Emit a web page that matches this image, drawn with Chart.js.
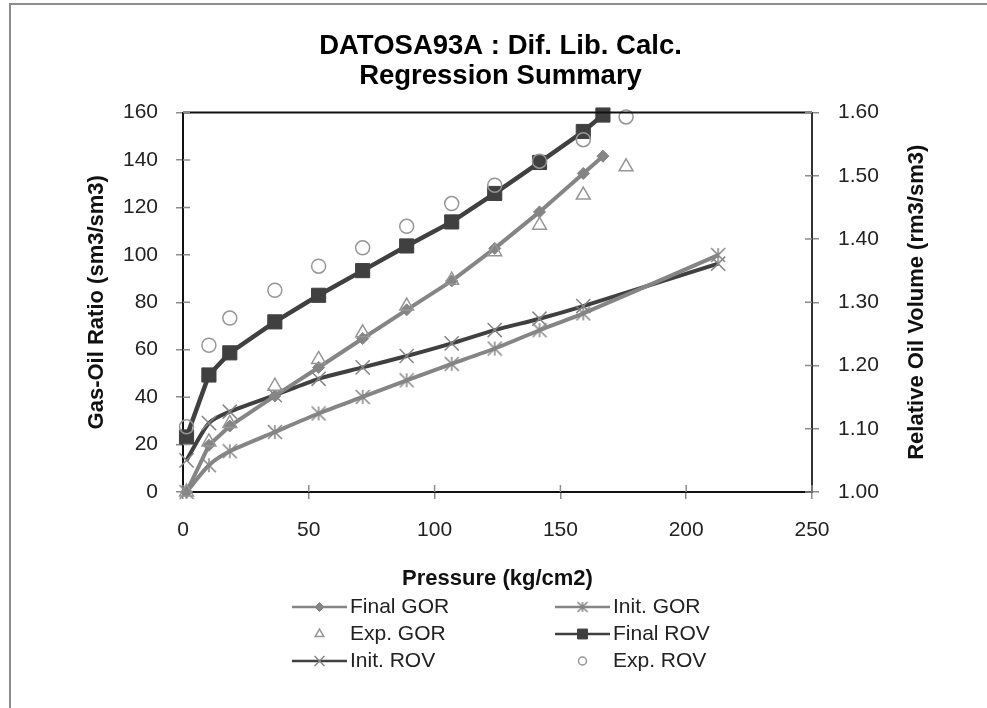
<!DOCTYPE html>
<html>
<head>
<meta charset="utf-8">
<script src="https://cdn.jsdelivr.net/npm/chart.js@4.4.0/dist/chart.umd.min.js"></script>
<style>
    html, body { margin: 0; padding: 0; background: #fff; }
    #chart { display: block; }
</style>
</head>
<body>
<canvas id="chart" width="987" height="708"></canvas>
<script>

// pressure (kg/cm2) for each group of series
const finalPressure = [1.4, 10.3, 18.6, 36.5, 53.9, 71.4, 88.9, 106.8, 123.9, 141.7, 159.1, 166.9];
const initPressure = [1.4, 10.3, 18.6, 36.5, 53.9, 71.4, 88.9, 106.8, 123.9, 141.7, 159.1, 212.7];
const expPressure = [1.4, 10.3, 18.6, 36.5, 53.9, 71.4, 88.9, 106.8, 123.9, 141.7, 159.1, 176.1];

// gas-oil ratio (sm3/sm3)
const finalGor = [0, 19.7, 27.8, 40.5, 52.5, 64.7, 76.8, 89.0, 102.7, 118.1, 134.3, 141.6];
const initGor = [0, 11.3, 17.2, 25.3, 33.1, 40.1, 47.1, 54.0, 60.5, 68.2, 75.3, 99.9];
const expGor = [0, 21.1, 28.9, 44.6, 55.9, 67.1, 78.4, 89.3, 101.3, 112.5, 125.2, 137.1];

// relative oil volume (rm3/sm3)
const finalRov = [1.087, 1.185, 1.220, 1.269, 1.311, 1.350, 1.389, 1.427, 1.472, 1.521, 1.570, 1.596];
const initRov = [1.050, 1.109, 1.127, 1.153, 1.179, 1.197, 1.215, 1.235, 1.256, 1.274, 1.294, 1.361];
const expRov = [1.103, 1.232, 1.275, 1.319, 1.357, 1.386, 1.420, 1.456, 1.485, 1.523, 1.557, 1.593];

const seriesNames = ['Final GOR', 'Init. GOR', 'Exp. GOR', 'Final ROV', 'Init. ROV', 'Exp. ROV'];

const pressureTicks = [0, 50, 100, 150, 200, 250];
const gorTicks = [0, 20, 40, 60, 80, 100, 120, 140, 160];
const rovTicks = [1.0, 1.1, 1.2, 1.3, 1.4, 1.5, 1.6];

const DARK = 'rgb(64, 64, 64)';
const GREY = 'rgb(133, 133, 133)';
const LIGHT = 'rgb(150, 150, 150)';
const FONT = "'Liberation Sans', Arial, sans-serif";

function toPoints(xs, ys) {
    return xs.map(function (x, i) {
        return { x: x, y: ys[i] };
    });
}

// excel style asterisk: an X with a vertical stroke
function asterisk(size, color) {
    const c = document.createElement('canvas');
    c.width = size;
    c.height = size;
    const g = c.getContext('2d');
    const m = size / 2;
    const r = size / 2 - 1;
    g.strokeStyle = color;
    g.lineWidth = 1.5;
    g.beginPath();
    g.moveTo(m - r, m - r); g.lineTo(m + r, m + r);
    g.moveTo(m + r, m - r); g.lineTo(m - r, m + r);
    g.moveTo(m, m - r); g.lineTo(m, m + r);
    g.stroke();
    return c;
}

Chart.defaults.font.family = FONT;
Chart.defaults.color = '#222';

const data = {
    datasets: [
        {
            label: seriesNames[0],
            data: toPoints(finalPressure, finalGor),
            yAxisID: 'y',
            borderColor: GREY, backgroundColor: GREY,
            borderWidth: 4, pointStyle: 'rectRot', pointRadius: 6,
            pointBorderWidth: 1, legendRadius: 4.5, order: 2
        },
        {
            label: seriesNames[1],
            data: toPoints(initPressure, initGor),
            yAxisID: 'y',
            borderColor: GREY, backgroundColor: GREY,
            borderWidth: 4, tension: 0.25,
            pointStyle: asterisk(16, GREY), legendStyle: asterisk(12, GREY), order: 3
        },
        {
            label: seriesNames[2],
            data: toPoints(expPressure, expGor),
            yAxisID: 'y',
            showLine: false,
            borderColor: LIGHT, backgroundColor: 'rgba(0,0,0,0)',
            pointStyle: 'triangle', pointRadius: 8, pointBorderWidth: 1.5,
            legendRadius: 5, order: 0
        },
        {
            label: seriesNames[3],
            data: toPoints(finalPressure, finalRov),
            yAxisID: 'y2',
            borderColor: DARK, backgroundColor: DARK,
            borderWidth: 4.5, pointStyle: 'rect', pointRadius: 10,
            pointBorderWidth: 1, legendRadius: 7, order: 1
        },
        {
            label: seriesNames[4],
            data: toPoints(initPressure, initRov),
            yAxisID: 'y2',
            borderColor: DARK, backgroundColor: GREY,
            pointBorderColor: GREY,
            borderWidth: 4, tension: 0.25,
            pointStyle: 'crossRot', pointRadius: 10, pointBorderWidth: 1.5,
            legendRadius: 7, order: 3
        },
        {
            label: seriesNames[5],
            data: toPoints(expPressure, expRov),
            yAxisID: 'y2',
            showLine: false,
            borderColor: LIGHT, backgroundColor: 'rgba(0,0,0,0)',
            pointStyle: 'circle', pointRadius: 7, pointBorderWidth: 1.5,
            legendRadius: 4, order: 0
        }
    ]
};

const framePlugin = {
    id: 'frame',
    beforeDraw: (chart) => {
        const ctx = chart.ctx;
        ctx.save();
        ctx.fillStyle = '#fff';
        ctx.fillRect(0, 0, chart.width, chart.height);
        ctx.strokeStyle = 'rgb(140, 140, 140)';
        ctx.lineWidth = 2;
        ctx.strokeRect(10, 4, chart.width + 20, chart.height + 20);
        ctx.restore();
    },
    afterDraw: (chart) => {
        const ctx = chart.ctx;
        const area = chart.chartArea;
        ctx.save();

        // top border of the plot area
        ctx.strokeStyle = '#111';
        ctx.lineWidth = 2;
        ctx.beginPath();
        ctx.moveTo(area.left, area.top);
        ctx.lineTo(area.right, area.top);
        ctx.stroke();

        // inner half of the crossing tick marks
        ctx.strokeStyle = 'rgb(140, 140, 140)';
        ctx.lineWidth = 1.5;
        ctx.beginPath();
        chart.scales.x.ticks.forEach(function (t) {
            const px = chart.scales.x.getPixelForValue(t.value);
            ctx.moveTo(px, area.bottom);
            ctx.lineTo(px, area.bottom - 7);
        });
        chart.scales.y.ticks.forEach(function (t) {
            const py = chart.scales.y.getPixelForValue(t.value);
            ctx.moveTo(area.left, py);
            ctx.lineTo(area.left + 7, py);
        });
        chart.scales.y2.ticks.forEach(function (t) {
            const py = chart.scales.y2.getPixelForValue(t.value);
            ctx.moveTo(area.right, py);
            ctx.lineTo(area.right - 7, py);
        });
        ctx.stroke();

        // right axis title, reading bottom to top
        ctx.fillStyle = '#111';
        ctx.font = 'bold 22px ' + FONT;
        ctx.textAlign = 'center';
        ctx.textBaseline = 'middle';
        ctx.translate(917, (area.top + area.bottom) / 2);
        ctx.rotate(-Math.PI / 2);
        ctx.fillText('Relative Oil Volume (rm3/sm3)', 0, 0);
        ctx.restore();

        // legend, two columns
        const colX = [292, 555];
        const rowY = [607, 634, 661];
        ctx.save();
        ctx.font = '21px ' + FONT;
        ctx.textBaseline = 'middle';
        ctx.textAlign = 'left';
        chart.data.datasets.forEach(function (ds, i) {
            const x = colX[i % 2];
            const y = rowY[Math.floor(i / 2)];
            if (ds.showLine !== false) {
                ctx.strokeStyle = ds.borderColor;
                ctx.lineWidth = 2.5;
                ctx.beginPath();
                ctx.moveTo(x, y);
                ctx.lineTo(x + 55, y);
                ctx.stroke();
            }
            ctx.strokeStyle = ds.pointBorderColor || ds.borderColor;
            ctx.fillStyle = ds.backgroundColor;
            ctx.lineWidth = ds.pointBorderWidth || 1;
            Chart.helpers.drawPoint(ctx, {
                pointStyle: ds.legendStyle || ds.pointStyle,
                radius: ds.legendRadius || 5,
                rotation: 0,
                borderWidth: ds.pointBorderWidth || 1
            }, x + 27.5, y);
            ctx.fillStyle = '#222';
            ctx.fillText(ds.label, x + 58, y);
        });
        ctx.restore();
    }
};

const config = {
    type: 'line',
    data: data,
    options: {
        responsive: false,
        animation: false,
        events: [],
        layout: {
            padding: { left: 14, right: 0, top: 0, bottom: 108 }
        },
        plugins: {
            legend: { display: false },
            tooltip: { enabled: false },
            title: {
                display: true,
                text: ['DATOSA93A : Dif. Lib. Calc.', 'Regression Summary'],
                color: '#000',
                font: { size: 27.5, weight: 'bold', lineHeight: 1.1 },
                padding: { top: 31, bottom: 21 }
            }
        },
        datasets: {
            line: { clip: false }
        },
        scales: {
            x: {
                type: 'linear',
                min: 0, max: 250,
                afterBuildTicks: (scale) => {
                    scale.ticks = pressureTicks.map(v => ({ value: v }));
                },
                afterFit: (scale) => { scale.height = 108; },
                ticks: { font: { size: 21 }, padding: 19, color: '#222' },
                grid: { drawOnChartArea: false, tickLength: 7, color: 'rgb(140, 140, 140)', lineWidth: 1.5 },
                border: { color: '#111', width: 2 },
                title: {
                    display: true,
                    text: 'Pressure (kg/cm2)',
                    color: '#111',
                    font: { size: 22, weight: 'bold' },
                    padding: { top: 0, bottom: 8 }
                }
            },
            y: {
                position: 'left',
                min: 0, max: 160,
                afterBuildTicks: (scale) => {
                    scale.ticks = gorTicks.map(v => ({ value: v }));
                },
                afterFit: (scale) => { scale.width = 169; },
                ticks: { font: { size: 21 }, padding: 18, color: '#222' },
                grid: { drawOnChartArea: false, tickLength: 7, color: 'rgb(140, 140, 140)', lineWidth: 1.5 },
                border: { color: '#111', width: 2 },
                title: {
                    display: true,
                    text: 'Gas-Oil Ratio (sm3/sm3)',
                    color: '#111',
                    font: { size: 22, weight: 'bold' },
                    padding: { top: 70, bottom: 0 }
                }
            },
            y2: {
                position: 'right',
                min: 1.0, max: 1.6,
                afterBuildTicks: (scale) => {
                    scale.ticks = rovTicks.map(v => ({ value: v }));
                },
                afterFit: (scale) => { scale.width = 175; },
                ticks: {
                    font: { size: 21 }, padding: 19, color: '#222',
                    callback: (v) => Number(v).toFixed(2)
                },
                grid: { drawOnChartArea: false, tickLength: 7, color: 'rgb(140, 140, 140)', lineWidth: 1.5 },
                border: { color: '#333', width: 2 }
            }
        }
    },
    plugins: [framePlugin]
};

let chart = new Chart(
    document.getElementById('chart'),
    config
);

</script>
</body>
</html>
